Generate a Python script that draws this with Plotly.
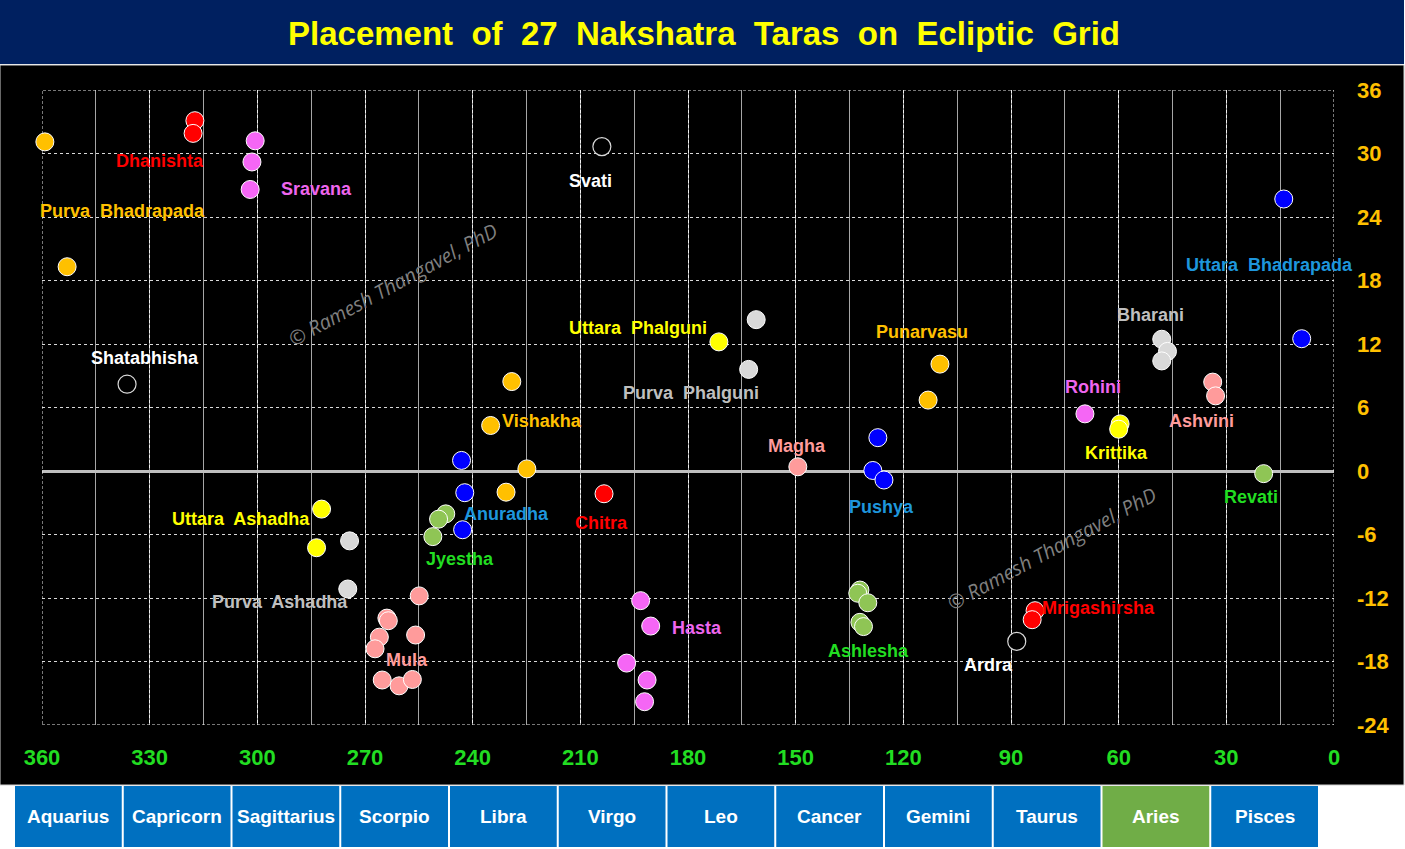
import plotly.graph_objects as go

# ---------------- data ----------------
nakshatras = ["Ashvini", "Bharani", "Krittika", "Rohini", "Mrigashirsha", "Ardra",
              "Punarvasu", "Pushya", "Ashlesha", "Magha", "Purva  Phalguni",
              "Uttara  Phalguni", "Hasta", "Chitra", "Svati", "Vishakha", "Anuradha",
              "Jyestha", "Mula", "Purva  Ashadha", "Uttara  Ashadha", "Sravana",
              "Dhanishta", "Shatabhisha", "Purva  Bhadrapada", "Uttara  Bhadrapada", "Revati"]

star_longitudes = [
    [33.8, 33.0],
    [48.0, 46.4, 48.0],
    [59.6, 60.0],
    [69.4],
    [83.3, 84.1],
    [88.4],
    [109.8, 113.1],
    [127.1, 128.5, 125.4],
    [132.1, 132.7, 129.9, 132.1, 131.1],
    [149.4],
    [161.0, 163.1],
    [171.4],
    [193.2, 190.4, 197.1, 191.4, 192.1],
    [203.4],
    [204.0],
    [229.1, 235.0, 224.9, 230.7],
    [243.1, 242.2, 242.8],
    [247.5, 249.5, 251.1],
    [254.9, 263.9, 263.5, 266.0, 255.9, 267.2, 265.2, 260.5, 256.8],
    [274.3, 274.8],
    [282.1, 283.5],
    [300.6, 301.5, 302.0],
    [317.4, 317.9],
    [336.3],
    [359.2, 353.0],
    [14.0, 9.0],
    [19.6],
]

star_latitudes = [
    [8.4, 7.1],
    [12.45, 11.3, 10.4],
    [4.45, 3.95],
    [5.4],
    [-13.2, -14.05],
    [-16.1],
    [10.1, 6.7],
    [3.15, 0.05, -0.85],
    [-11.25, -11.55, -12.45, -14.3, -14.7],
    [0.4],
    [14.3, 9.6],
    [12.2],
    [-12.25, -14.65, -18.15, -19.75, -21.8],
    [-2.15],
    [30.65],
    [8.45, 4.3, 0.2, -2.0],
    [1.0, -2.05, -5.55],
    [-4.05, -4.55, -6.2],
    [-11.8, -13.9, -14.15, -15.7, -15.5, -16.8, -19.75, -20.3, -19.7],
    [-6.6, -11.15],
    [-3.6, -7.25],
    [31.2, 29.2, 26.6],
    [33.1, 31.9],
    [8.2],
    [31.1, 19.3],
    [25.7, 12.5],
    [-0.25],
]

marker_group = ["salmon", "gray", "yellow", "violet", "red", "open",
                "orange", "blue", "green", "salmon", "gray",
                "yellow", "violet", "red", "open", "orange", "blue",
                "green", "salmon", "gray", "yellow", "violet",
                "red", "open", "orange", "blue", "green"]

label_group = ["salmon", "gray", "yellow", "violet", "red", "white",
               "orange", "blue", "green", "salmon", "gray",
               "yellow", "violet", "red", "white", "orange", "blue",
               "green", "salmon", "gray", "yellow", "violet",
               "red", "white", "orange", "blue", "green"]

# label anchor positions (longitude, latitude)
label_pos = [
    (36.8, 4.73), (51.0, 14.74), (60.7, 1.70), (67.1, 7.94), (65.5, -12.95),
    (96.4, -18.34), (114.8, 13.14), (126.2, -3.40), (129.6, -17.0), (149.6, 2.36),
    (179.2, 7.37), (193.9, 13.5), (177.5, -14.84), (204.0, -4.91), (207.3, 27.4),
    (220.7, 4.73), (230.7, -4.06), (243.5, -8.32), (258.3, -17.86), (293.7, -12.38),
    (304.5, -4.54), (283.6, 26.65), (327.1, 29.3), (331.3, 10.68), (337.7, 24.6),
    (18.1, 19.47), (23.1, -2.46),
]

x_ticks = [360, 330, 300, 270, 240, 210, 180, 150, 120, 90, 60, 30, 0]
y_ticks = [36, 30, 24, 18, 12, 6, 0, -6, -12, -18, -24]

zodiac_signs = ["Aquarius", "Capricorn", "Sagittarius", "Scorpio", "Libra", "Virgo",
                "Leo", "Cancer", "Gemini", "Taurus", "Aries", "Pisces"]

title_text = "Placement  of  27  Nakshatra  Taras  on  Ecliptic  Grid"
watermark = "© Ramesh Thangavel, PhD"

# ---------------- styles ----------------
marker_colors = {"salmon": "#FF9B9B", "gray": "#D9D9D9", "yellow": "#FFFF00",
                 "violet": "#F566F5", "red": "#FF0000", "open": "#000000",
                 "orange": "#FFC000", "blue": "#0000FF", "green": "#8FC555"}
label_colors = {"salmon": "#FF9B9B", "gray": "#BFBFBF", "yellow": "#FFFF00",
                "violet": "#EE66EE", "red": "#FF0000", "white": "#FFFFFF",
                "orange": "#FFC000", "blue": "#1E96DC", "green": "#22DD22"}

FONT = "Liberation Sans, Arial, sans-serif"
W, H = 1405, 849
L, R, T, B = 42, 71, 90, 124
PW, PH = W - L - R, H - T - B


def px(x):
    return (x - L) / PW


def py(y):
    return (H - B - y) / PH


nb = "\u00a0"

fig = go.Figure()

for name, lons, lats, grp in zip(nakshatras, star_longitudes, star_latitudes, marker_group):
    is_open = grp == "open"
    fig.add_trace(go.Scatter(
        x=lons, y=lats, mode="markers", name=name, showlegend=False,
        cliponaxis=False,
        marker=dict(size=18, color=marker_colors[grp],
                    line=dict(color="#D9D9D9" if is_open else "#FFFFFF",
                              width=1.2 if is_open else 1)),
        hoverinfo="x+y+name",
    ))

annotations = []
for name, (lx, ly), grp in zip(nakshatras, label_pos, label_group):
    annotations.append(dict(
        x=lx, y=ly, xref="x", yref="y", text=name.replace("  ", nb + " "),
        showarrow=False, xanchor="center", yanchor="middle",
        font=dict(family=FONT, size=18, color=label_colors[grp], weight="bold"),
    ))

for (wx, wy) in [(262.2, 17.6), (78.6, -7.35)]:
    annotations.append(dict(
        x=wx, y=wy, xref="x", yref="y", text=watermark, showarrow=False,
        textangle=-28.5, font=dict(family="Open Sans, sans-serif", size=20,
                                   color="#7F7F7F", style="italic"),
    ))

annotations.append(dict(
    x=px(W / 2 + 1), y=py(33), xref="paper", yref="paper",
    text=title_text.replace("  ", nb + " "), showarrow=False,
    xanchor="center", yanchor="middle",
    font=dict(family=FONT, size=33, color="#FFFF00", weight="bold"),
))

shapes = [
    # black chart area
    dict(type="rect", xref="paper", yref="paper", x0=px(0), x1=px(1404),
         y0=py(65), y1=py(785), fillcolor="#000000", line=dict(color="#D0D0D0", width=1),
         layer="below"),
    # title band
    dict(type="rect", xref="paper", yref="paper", x0=px(0), x1=px(1404),
         y0=py(0), y1=py(64), fillcolor="#002060", line=dict(width=0), layer="below"),
    # dotted frame of the grid
    dict(type="rect", xref="x", yref="y", x0=x_ticks[0], x1=x_ticks[-1],
         y0=y_ticks[-1], y1=y_ticks[0], fillcolor="rgba(0,0,0,0)",
         line=dict(color="#F0F0F0", width=1, dash="3px,2px"), layer="between"),
]

box_left, box_w, box_gap = 15, 106.75, 2.0
for i, sign in enumerate(zodiac_signs):
    x0 = box_left + i * (box_w + box_gap)
    x1 = x0 + box_w
    shapes.append(dict(type="rect", xref="paper", yref="paper", x0=px(x0), x1=px(x1),
                       y0=py(786), y1=py(847),
                       fillcolor="#70AD47" if sign == "Aries" else "#0070C0",
                       line=dict(width=0), layer="below"))
    annotations.append(dict(
        x=px((x0 + x1) / 2), y=py(816), xref="paper", yref="paper", text=sign,
        showarrow=False, xanchor="center", yanchor="middle",
        font=dict(family=FONT, size=19, color="#FFFFFF", weight="bold"),
    ))

fig.update_layout(
    width=W, height=H,
    margin=dict(l=L, r=R, t=T, b=B, pad=0),
    paper_bgcolor="#FFFFFF", plot_bgcolor="#000000",
    shapes=shapes, annotations=annotations,
    xaxis=dict(range=[360, 0], tickvals=x_ticks, ticktext=[str(v) for v in x_ticks],
               automargin=False,
               showgrid=True, gridcolor="#F0F0F0", gridwidth=1, griddash="3px,2px",
               minor=dict(dtick=15, tick0=0, showgrid=True, gridcolor="#A6A6A6",
                          gridwidth=1, griddash="solid"),
               zeroline=False, showline=False, ticks="", ticklabelstandoff=17,
               tickfont=dict(family=FONT, size=22, color="#22DD22", weight="bold")),
    yaxis=dict(range=[-24, 36], tickvals=y_ticks, ticktext=[str(v) for v in y_ticks],
               side="right", automargin=False,
               showgrid=True, gridcolor="#D9D9D9", gridwidth=1, griddash="dot",
               zeroline=True, zerolinecolor="#BFBFBF", zerolinewidth=3,
               showline=False, ticks="", ticklabelstandoff=22,
               tickfont=dict(family=FONT, size=22, color="#FFC000", weight="bold")),
)

fig.write_html("out.html", config={"displayModeBar": False})
